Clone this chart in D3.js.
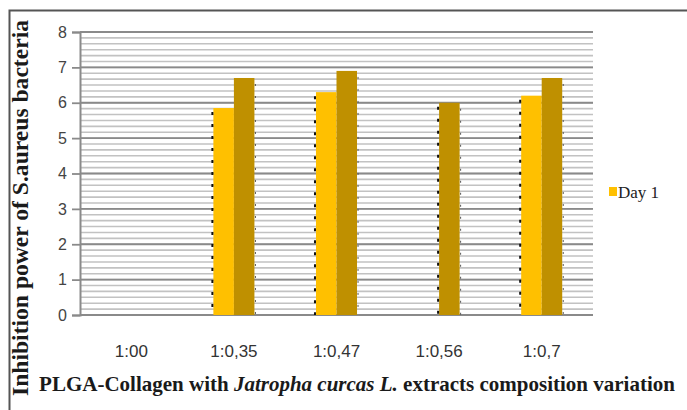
<!DOCTYPE html>
<html>
<head>
<meta charset="utf-8">
<script src="https://cdn.jsdelivr.net/npm/d3@7"></script>
<style>
  body { margin: 0; background: #fff; }
  svg { display: block; }
</style>
</head>
<body>
<div id="chart"></div>
<script>
// values
const categories = ['1:00', '1:0,35', '1:0,47', '1:0,56', '1:0,7'];
const seriesNames = ['Day 1', 'Day 2'];
const day1 = [0, 5.85, 6.3, 0, 6.2];
const day2 = [0, 6.7, 6.9, 6.0, 6.7];
const yTicks = [0, 1, 2, 3, 4, 5, 6, 7, 8];
const legendNames = ['Day 1'];

const W = 687, H = 410;
let margin = { top: 32, left: 80, right: 94, bottom: 95 },
    width = W - margin.left - margin.right,
    height = H - margin.top - margin.bottom;

const colors = d3.scaleOrdinal().domain(seriesNames).range(['#ffc000', '#bf9000']);

const rows = categories.map((c, i) => ({ cat: c, values: [day1[i], day2[i]] }));

let svg = d3.select('#chart').append('svg')
    .attr('width', W)
    .attr('height', H);

// outer frame
svg.append('rect')
    .attr('x', 9.5).attr('y', 10.5)
    .attr('width', W - 8).attr('height', H)
    .attr('fill', 'none')
    .attr('stroke', '#555')
    .attr('stroke-width', 2);

let g = svg.append('g')
    .attr('transform', 'translate(' + margin.left + ',' + margin.top + ')');

let xScale = d3.scaleBand().domain(categories).range([0, width]);
let xInner = d3.scaleBand().domain(seriesNames)
    .range([xScale.bandwidth() * 0.3, xScale.bandwidth() * 0.7]);
let yScale = d3.scaleLinear().domain([0, 8]).range([height, 0]);

// striped grid: minor lines every 1/6, darker ones on the integers
let minor = d3.range(0, 8 * 6 + 1).map(k => k / 6);
g.append('g').selectAll('line')
    .data(minor)
    .enter().append('line')
    .attr('x1', 0).attr('x2', width)
    .attr('y1', d => yScale(d)).attr('y2', d => yScale(d))
    .attr('stroke', '#c2c2c2')
    .attr('stroke-width', 1.6);

g.append('g').selectAll('line')
    .data(yTicks)
    .enter().append('line')
    .attr('x1', 0).attr('x2', width)
    .attr('y1', d => yScale(d)).attr('y2', d => yScale(d))
    .attr('stroke', '#8a8a8a')
    .attr('stroke-width', 1.8);

// bars
let groups = g.append('g').selectAll('g')
    .data(rows)
    .enter().append('g')
    .attr('transform', d => 'translate(' + xScale(d.cat) + ',0)');

groups.selectAll('rect')
    .data(d => d.values.map((v, i) => ({ name: seriesNames[i], value: v })).filter(d => d.value > 0))
    .enter().append('rect')
    .attr('x', d => xInner(d.name))
    .attr('y', d => yScale(d.value))
    .attr('width', xInner.bandwidth())
    .attr('height', d => height - yScale(d.value))
    .attr('fill', d => colors(d.name));

// the dotted black edges the original has on the bar groups
groups.each(function (d) {
    let shown = d.values.map((v, i) => ({ name: seriesNames[i], value: v })).filter(e => e.value > 0);
    if (!shown.length) return;
    let first = shown[0], last = shown[shown.length - 1];
    d3.select(this).append('line')
        .attr('x1', xInner(first.name) - 1).attr('x2', xInner(first.name) - 1)
        .attr('y1', yScale(first.value) + 4).attr('y2', height)
        .attr('stroke', '#111')
        .attr('stroke-width', 2)
        .attr('stroke-dasharray', '3,9');
    d3.select(this).append('line')
        .attr('x1', xInner(last.name) + xInner.bandwidth() + 1)
        .attr('x2', xInner(last.name) + xInner.bandwidth() + 1)
        .attr('y1', yScale(last.value) + 6).attr('y2', height)
        .attr('stroke', '#555')
        .attr('stroke-width', 1)
        .attr('stroke-dasharray', '2,10');
});

// axes
let yAxis = g.append('g')
    .call(d3.axisLeft(yScale).tickValues(yTicks).tickSize(8).tickPadding(5).tickFormat(d3.format('d')));
yAxis.select('.domain').attr('stroke', '#8a8a8a').attr('stroke-width', 2);
yAxis.selectAll('.tick line').attr('stroke', '#8a8a8a').attr('stroke-width', 1.8);
yAxis.selectAll('text')
    .style('font-family', '"Liberation Sans", Arial, sans-serif')
    .style('font-size', '16px')
    .attr('fill', '#444');

let xAxis = g.append('g')
    .attr('transform', 'translate(0,' + height + ')')
    .call(d3.axisBottom(xScale).tickSize(0).tickPadding(30));
xAxis.select('.domain').remove();
xAxis.selectAll('text')
    .style('font-family', '"Liberation Sans", Arial, sans-serif')
    .style('font-size', '17px')
    .attr('fill', '#333');

// y axis title
svg.append('text')
    .attr('transform', 'translate(28,' + 208 + ') rotate(-90)')
    .attr('text-anchor', 'middle')
    .style('font-family', '"Liberation Serif", "Times New Roman", serif')
    .style('font-weight', 'bold')
    .style('font-size', '23.6px')
    .attr('fill', '#1a1a1a')
    .text('Inhibition power of S.aureus bacteria');

// x axis title
let xt = svg.append('text')
    .attr('x', 357)
    .attr('y', 391)
    .attr('text-anchor', 'middle')
    .style('font-family', '"Liberation Serif", "Times New Roman", serif')
    .style('font-weight', 'bold')
    .style('font-size', '21px')
    .attr('fill', '#1a1a1a');
xt.append('tspan').text('PLGA-Collagen with ');
xt.append('tspan').style('font-style', 'italic').text('Jatropha curcas L.');
xt.append('tspan').text(' extracts composition variation');

// legend
let legend = svg.append('g')
    .attr('transform', 'translate(' + (margin.left + width + 16) + ',192)');
legend.selectAll('rect')
    .data(legendNames)
    .enter().append('rect')
    .attr('x', 0).attr('y', (d, i) => i * 20 - 5)
    .attr('width', 8).attr('height', 9)
    .attr('fill', d => colors(d));
legend.selectAll('text')
    .data(legendNames)
    .enter().append('text')
    .attr('x', 9).attr('y', (d, i) => i * 20)
    .attr('dy', '0.35em')
    .style('font-family', '"Liberation Serif", "Times New Roman", serif')
    .style('font-size', '17px')
    .attr('fill', '#222')
    .text(d => d);
</script>
</body>
</html>
